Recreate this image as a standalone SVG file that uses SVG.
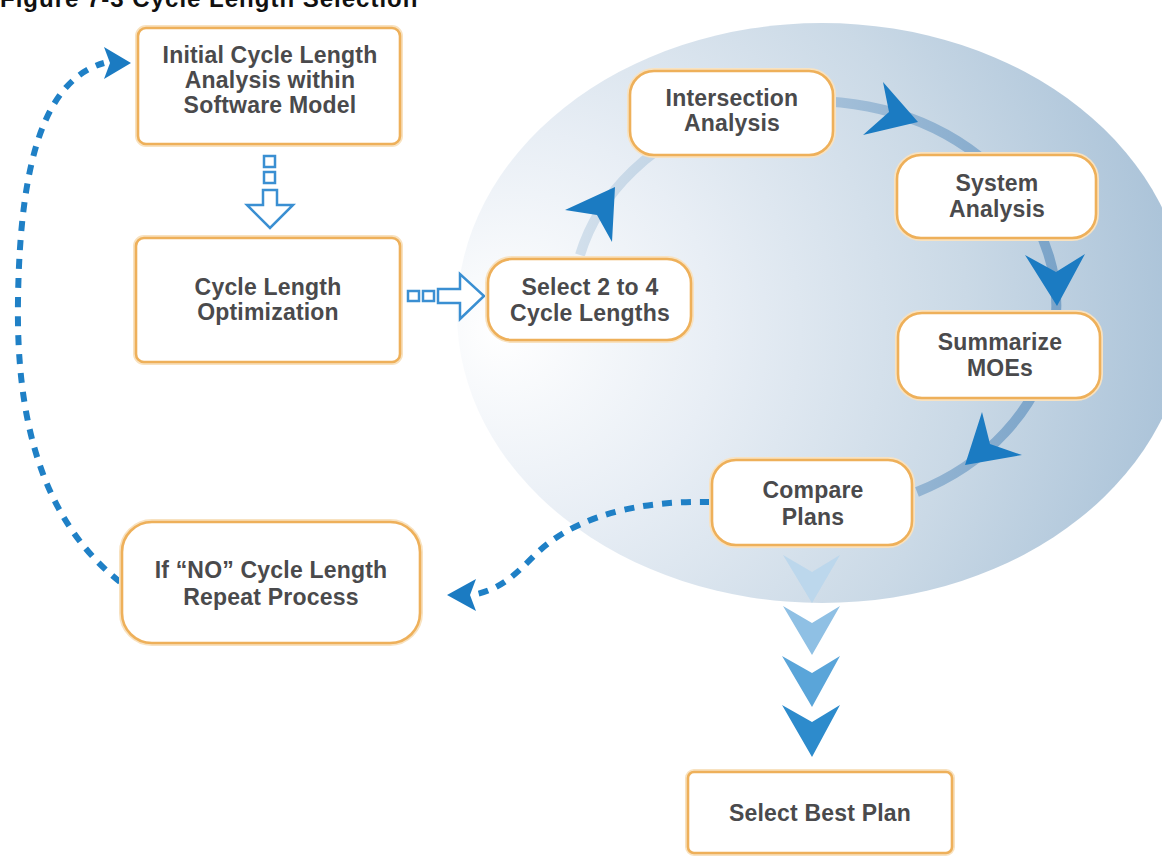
<svg xmlns="http://www.w3.org/2000/svg" width="1162" height="856" viewBox="0 0 1162 856">
<defs>
<radialGradient id="bgGrad" gradientUnits="userSpaceOnUse" cx="560" cy="330" r="660" fx="500" fy="330">
<stop offset="0" stop-color="#ffffff"/>
<stop offset="0.3" stop-color="#e8eef5"/>
<stop offset="0.65" stop-color="#cad9e6"/>
<stop offset="1" stop-color="#a5bfd6"/>
</radialGradient>
<linearGradient id="arcGrad" gradientUnits="userSpaceOnUse" x1="570" y1="0" x2="1060" y2="0">
<stop offset="0" stop-color="#d3e0ec"/>
<stop offset="1" stop-color="#7aa3c8"/>
</linearGradient>
<style>
.box{fill:#ffffff;stroke:#eeb05a;stroke-width:2.6}
.glow{fill:none;stroke:#f8e2c0;stroke-width:6}
.lbl{font-family:"Liberation Sans",Arial,sans-serif;font-weight:bold;font-size:23px;letter-spacing:0.2px;fill:#4a4a4c;text-anchor:middle}
.title{font-family:"Liberation Sans",Arial,sans-serif;font-weight:bold;font-size:24px;letter-spacing:1px;fill:#111111}
.dash{fill:none;stroke:#1f80c6;stroke-width:6;stroke-dasharray:10 9}
.head{fill:#1b7bc2}
.hollow{fill:#ffffff;stroke:#3a8fd2;stroke-width:2.5;stroke-linejoin:miter}
</style>
</defs>
<rect width="1162" height="856" fill="#ffffff"/>
<text class="title" x="0" y="7">Figure 7-3 Cycle Length Selection</text>
<ellipse cx="822" cy="313" rx="365" ry="290" fill="url(#bgGrad)"/>
<g id="connectors">
<path d="M 580,255 A 242,205 0 1 1 917,492" fill="none" stroke="url(#arcGrad)" stroke-width="10"/>
<polygon class="head" points="615,187 565,210 597,215 612,242"/>
<polygon class="head" points="918,122 883,82 889,112 863,135"/>
<polygon class="head" points="1057,306 1025,255 1056,272 1085,254"/>
<polygon class="head" points="965,465 982,412 990,444 1022,455"/>
<path class="dash" d="M 120,582 C 42,520 16,420 18,300 C 20,160 45,80 104,63"/>
<polygon class="head" points="131,63 104,47 110,63 104,79"/>
<path class="dash" d="M 710,502 C 620,500 565,525 535,555 C 515,575 500,590 472,595"/>
<polygon class="head" points="447,595 476,579 470,595 476,611"/>
<rect class="hollow" x="264" y="156" width="11" height="11"/>
<rect class="hollow" x="264" y="172" width="11" height="11"/>
<polygon class="hollow" points="263,190 277,190 277,205 293,205 270,228 247,205 263,205"/>
<rect class="hollow" x="408" y="291" width="11" height="10"/>
<rect class="hollow" x="423" y="291" width="11" height="10"/>
<polygon class="hollow" points="438,289 460,289 460,274 484,296 460,319 460,303 438,303"/>
<polygon points="783,555 812,572 840,555 812,603" fill="#b9d6ec" opacity="0.9"/>
<polygon points="783,606 812,623 840,606 812,655" fill="#8fc0e4"/>
<polygon points="782,656 812,673 840,656 812,707" fill="#5aa5d9"/>
<polygon points="782,705 812,722 840,705 812,757" fill="#2d8bcc"/>
</g>
<g id="n-initial">
<rect class="glow" x="138" y="28" width="262" height="116" rx="8"/>
<rect class="box" x="138" y="28" width="262" height="116" rx="8"/>
<text class="lbl" x="270" y="63">Initial Cycle Length</text>
<text class="lbl" x="270" y="88">Analysis within</text>
<text class="lbl" x="270" y="113">Software Model</text>
</g>
<g id="n-optimization">
<rect class="glow" x="136" y="238" width="264" height="124" rx="8"/>
<rect class="box" x="136" y="238" width="264" height="124" rx="8"/>
<text class="lbl" x="268" y="295">Cycle Length</text>
<text class="lbl" x="268" y="320">Optimization</text>
</g>
<g id="n-select24">
<rect class="glow" x="488" y="259" width="203" height="81" rx="24"/>
<rect class="box" x="488" y="259" width="203" height="81" rx="24"/>
<text class="lbl" x="590" y="295">Select 2 to 4</text>
<text class="lbl" x="590" y="321">Cycle Lengths</text>
</g>
<g id="n-intersection">
<rect class="glow" x="630" y="71" width="203" height="84" rx="24"/>
<rect class="box" x="630" y="71" width="203" height="84" rx="24"/>
<text class="lbl" x="732" y="106">Intersection</text>
<text class="lbl" x="732" y="131">Analysis</text>
</g>
<g id="n-system">
<rect class="glow" x="897" y="155" width="199" height="83" rx="24"/>
<rect class="box" x="897" y="155" width="199" height="83" rx="24"/>
<text class="lbl" x="997" y="191">System</text>
<text class="lbl" x="997" y="217">Analysis</text>
</g>
<g id="n-summarize">
<rect class="glow" x="898" y="313" width="202" height="85" rx="24"/>
<rect class="box" x="898" y="313" width="202" height="85" rx="24"/>
<text class="lbl" x="1000" y="350">Summarize</text>
<text class="lbl" x="1000" y="376">MOEs</text>
</g>
<g id="n-compare">
<rect class="glow" x="712" y="460" width="200" height="85" rx="24"/>
<rect class="box" x="712" y="460" width="200" height="85" rx="24"/>
<text class="lbl" x="813" y="498">Compare</text>
<text class="lbl" x="813" y="525">Plans</text>
</g>
<g id="n-ifno">
<rect class="glow" x="122" y="522" width="298" height="121" rx="30"/>
<rect class="box" x="122" y="522" width="298" height="121" rx="30"/>
<text class="lbl" x="271" y="578">If “NO” Cycle Length</text>
<text class="lbl" x="271" y="605">Repeat Process</text>
</g>
<g id="n-best">
<rect class="glow" x="688" y="772" width="264" height="81" rx="6"/>
<rect class="box" x="688" y="772" width="264" height="81" rx="6"/>
<text class="lbl" x="820" y="821">Select Best Plan</text>
</g>
</svg>
